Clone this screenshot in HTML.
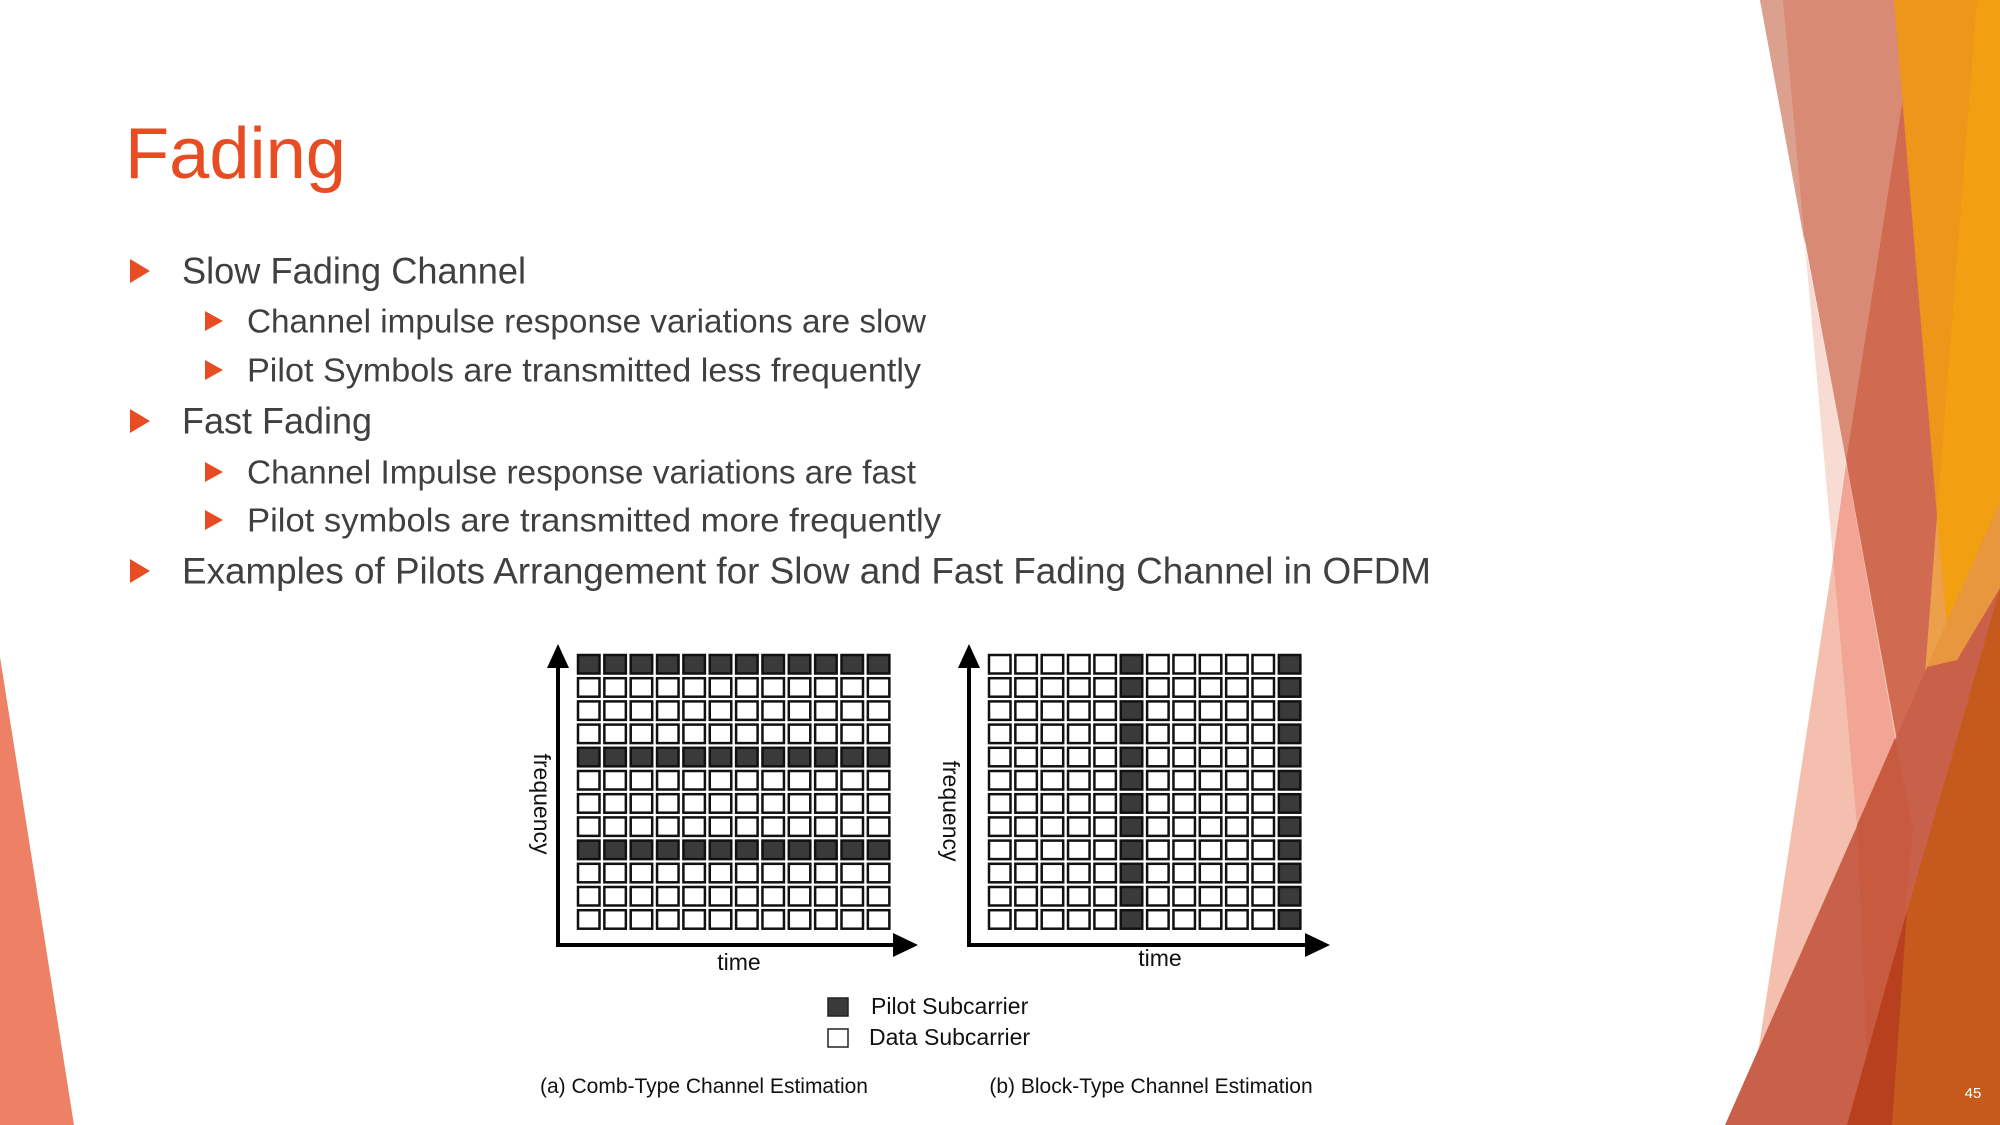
<!DOCTYPE html>
<html><head><meta charset="utf-8"><style>
html,body{margin:0;padding:0;background:#fff}
svg{display:block}
</style></head><body>
<svg width="2000" height="1125" viewBox="0 0 2000 1125" xmlns="http://www.w3.org/2000/svg">
<polygon points="0,657 74,1125 0,1125" fill="#ee8066"/>
<polygon points="1918,0 2000,0 2000,1125 1747,1125" fill="#f4bfae"/>
<polygon points="1805,245 1846,458 1833,558" fill="#f8dcd4"/>
<polygon points="1846,462 1833,558 1857,825 1895,738" fill="#f2a594"/>
<polygon points="1760,0 1918,0 1846,460" fill="#d98a75"/>
<polygon points="1760,0 1783,0 1805,245" fill="#dba08e"/>
<polygon points="1846,460 1918,0 2000,0 2000,1125 1967,1125" fill="#d06b52"/>
<polygon points="1894,0 2000,0 2000,1125 1985,1125 1957,739 1937,516" fill="#ee961a"/>
<polygon points="1977,0 2000,0 2000,588 1957,739 1937,516" fill="#f2a012"/>
<polygon points="1937,516 1957,739 1920,800 1907,911" fill="#eca04a"/>
<polygon points="1725,1125 2000,502 2000,1125" fill="#c9614a"/>
<polygon points="1857,825 1895,738 1913,829 1884,1125 1870,1125" fill="#c85a40"/>
<polygon points="2000,502 2000,588 1957,660 1927,667" fill="#e9973e"/>
<polygon points="2000,588 2000,1125 1847,1125 1907,911 1957,739" fill="#c55a1c"/>
<polygon points="1907,911 1892,1125 1847,1125" fill="#b8401f"/>
<text x="1973" y="1098" font-family="Liberation Sans, sans-serif" font-size="15" fill="#fff" text-anchor="middle">45</text>

<g font-family="Liberation Sans, sans-serif" fill="#404040" dominant-baseline="central">
<text x="125" y="154" font-size="72" fill="#e84c22" textLength="221" lengthAdjust="spacingAndGlyphs">Fading</text>
<text x="182" y="271" font-size="37" textLength="344" lengthAdjust="spacingAndGlyphs">Slow Fading Channel</text>
<text x="247" y="321" font-size="33" textLength="679" lengthAdjust="spacingAndGlyphs">Channel impulse response variations are slow</text>
<text x="247" y="370" font-size="33" textLength="674" lengthAdjust="spacingAndGlyphs">Pilot Symbols are transmitted less frequently</text>
<text x="182" y="421" font-size="37" textLength="190" lengthAdjust="spacingAndGlyphs">Fast Fading</text>
<text x="247" y="472" font-size="33" textLength="669" lengthAdjust="spacingAndGlyphs">Channel Impulse response variations are fast</text>
<text x="247" y="520" font-size="33" textLength="694" lengthAdjust="spacingAndGlyphs">Pilot symbols are transmitted more frequently</text>
<text x="182" y="571" font-size="37" textLength="1249" lengthAdjust="spacingAndGlyphs">Examples of Pilots Arrangement for Slow and Fast Fading Channel in OFDM</text>
</g>
<g fill="#e84c22">
<polygon points="130,259 150,271 130,283"/>
<polygon points="205,311 223,321 205,331"/>
<polygon points="205,360 223,370 205,380"/>
<polygon points="130,409 150,421 130,433"/>
<polygon points="205,462 223,472 205,482"/>
<polygon points="205,510 223,520 205,530"/>
<polygon points="130,559 150,571 130,583"/>
</g>

<g stroke="#000" stroke-width="4" fill="none">
<line x1="558" y1="660" x2="558" y2="945"/>
<line x1="556" y1="945" x2="900" y2="945"/>
<line x1="969" y1="660" x2="969" y2="945"/>
<line x1="967" y1="945" x2="1312" y2="945"/>
</g>
<g fill="#000">
<polygon points="558,644 547,668 569,668"/>
<polygon points="918,945 893,933 893,957"/>
<polygon points="969,644 958,668 980,668"/>
<polygon points="1330,945 1305,933 1305,957"/>
</g>
<g font-family="Liberation Sans, sans-serif" font-size="23" fill="#111" text-anchor="middle">
<text x="0" y="0" transform="translate(534,804) rotate(90)">frequency</text>
<text x="0" y="0" transform="translate(943,811) rotate(90)">frequency</text>
<text x="739" y="970">time</text>
<text x="1160" y="966">time</text>
<text x="871" y="1014" text-anchor="start">Pilot Subcarrier</text>
<text x="869" y="1045" text-anchor="start">Data Subcarrier</text>
<text x="704" y="1093" font-size="21">(a) Comb-Type Channel Estimation</text>
<text x="1151" y="1093" font-size="21">(b) Block-Type Channel Estimation</text>
</g>
<rect x="828" y="998" width="20" height="18" fill="#3a3a3a" stroke="#222" stroke-width="1.5"/>
<rect x="828" y="1029" width="20" height="18" fill="#fff" stroke="#222" stroke-width="1.5"/>
<g id="cells"></g>
</svg>
<script>
var ns="http://www.w3.org/2000/svg",g=document.getElementById("cells");
function cell(x,y,d){var r=document.createElementNS(ns,"rect");r.setAttribute("x",x);r.setAttribute("y",y);r.setAttribute("width",21.5);r.setAttribute("height",18.5);r.setAttribute("fill",d?"#3a3a3a":"#fff");r.setAttribute("stroke","#111");r.setAttribute("stroke-width","2.5");g.appendChild(r);}
for(var i=0;i<12;i++)for(var j=0;j<12;j++){
 var y=655+i*23.2;
 cell(578+j*26.35,y,(i==0||i==4||i==8));
 cell(989+j*26.35,y,(j==5||j==11));
}
</script>
</body></html>
